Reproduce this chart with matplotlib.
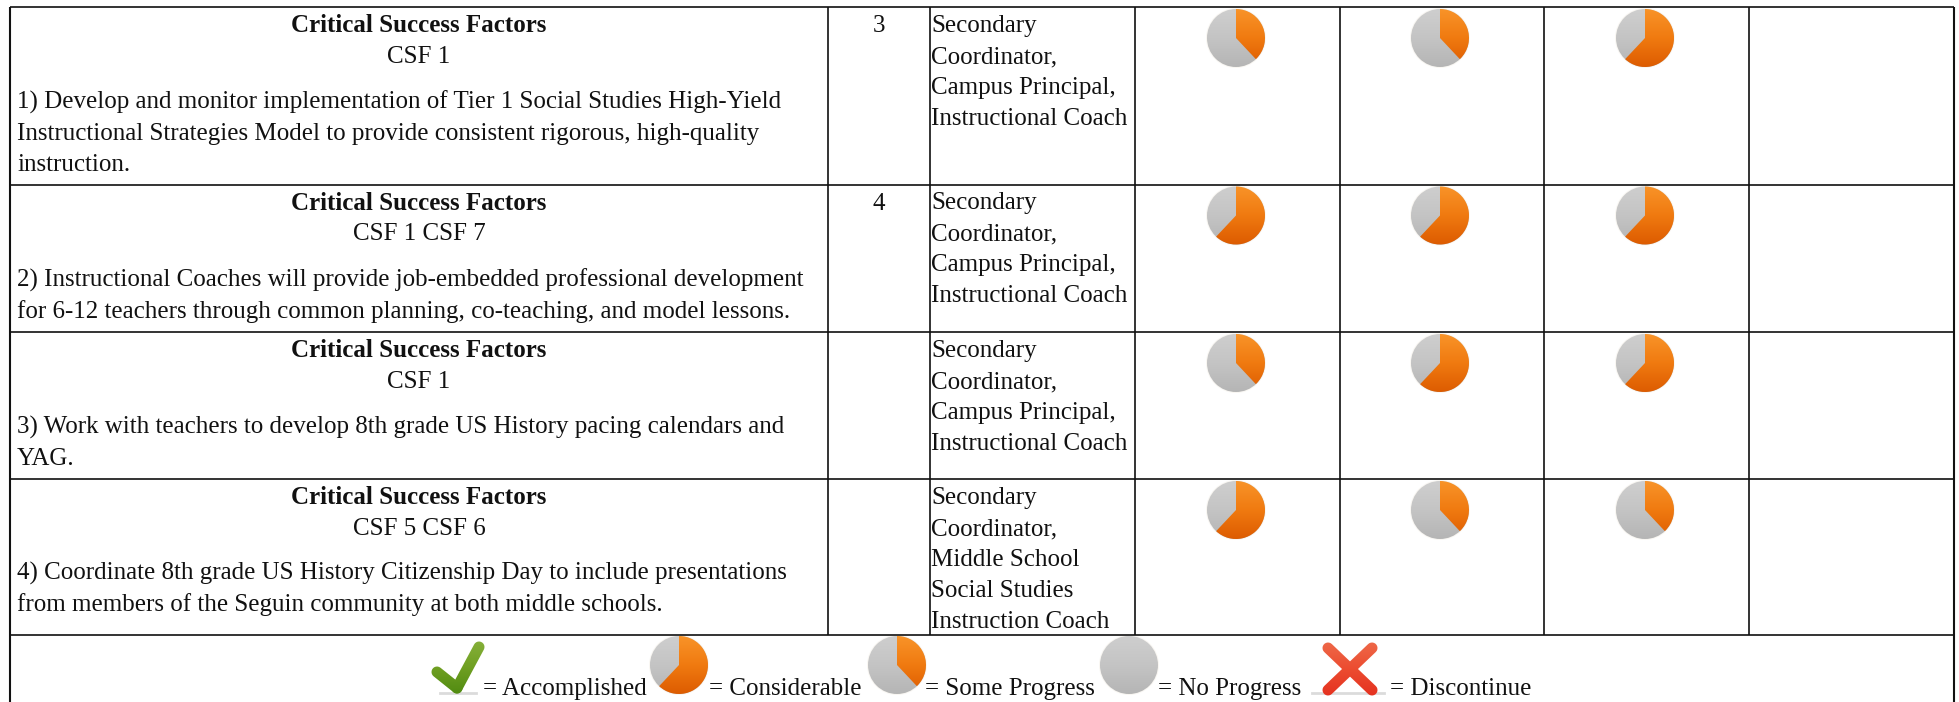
import numpy as np
import matplotlib
matplotlib.use("Agg")
import matplotlib.pyplot as plt
from matplotlib.patches import Wedge, Circle, Polygon
from matplotlib.colors import LinearSegmentedColormap

# ---- content ----
HEADING = "Critical Success Factors"
CSF_LABELS = ["CSF 1", "CSF 1 CSF 7", "CSF 1", "CSF 5 CSF 6"]
STRATEGIES = [
    ["1) Develop and monitor implementation of Tier 1 Social Studies High-Yield",
     "Instructional Strategies Model to provide consistent rigorous, high-quality",
     "instruction."],
    ["2) Instructional Coaches will provide job-embedded professional development",
     "for 6-12 teachers through common planning, co-teaching, and model lessons."],
    ["3) Work with teachers to develop 8th grade US History pacing calendars and",
     "YAG."],
    ["4) Coordinate 8th grade US History Citizenship Day to include presentations",
     "from members of the Seguin community at both middle schools."],
]
PRIORITY = ["3", "4", "", ""]
STAFF = [
    ["Secondary", "Coordinator,", "Campus Principal,", "Instructional Coach"],
    ["Secondary", "Coordinator,", "Campus Principal,", "Instructional Coach"],
    ["Secondary", "Coordinator,", "Campus Principal,", "Instructional Coach"],
    ["Secondary", "Coordinator,", "Middle School", "Social Studies", "Instruction Coach"],
]
SOME = 0.38
CONSIDERABLE = 0.62
NONE = 0.0
REVIEW_1 = [SOME, CONSIDERABLE, SOME, CONSIDERABLE]
REVIEW_2 = [SOME, CONSIDERABLE, CONSIDERABLE, SOME]
REVIEW_3 = [CONSIDERABLE, CONSIDERABLE, CONSIDERABLE, SOME]
LEGEND_LABELS = ["= Accomplished", "= Considerable", "= Some Progress", "= No Progress", "= Discontinue"]
LEGEND_PIES = [CONSIDERABLE, SOME, NONE]

# ---- layout in pixels ----
W, H = 1959, 702
COL_X = [10, 828, 930, 1135, 1340, 1544, 1749, 1954]
ROW_Y = [7, 184.5, 332, 479, 635]
LINE = "#111111"
FS = 18.0
LH = 31

fig = plt.figure(figsize=(W / 100, H / 100), dpi=100, facecolor="white")
ax = fig.add_axes([0, 0, 1, 1])
ax.set_xlim(0, W)
ax.set_ylim(H, 0)
ax.axis("off")

ORANGE = LinearSegmentedColormap.from_list("o", ["#f9952a", "#f07a10", "#dc5a00"])
GRAY = LinearSegmentedColormap.from_list("g", ["#cfcfcf", "#c4c4c4", "#b4b4b4"])
GREEN = LinearSegmentedColormap.from_list("gr", ["#86b03a", "#6f9f22", "#4f8a10"])
RED = LinearSegmentedColormap.from_list("r", ["#ee6a4a", "#ec4c30", "#e4301e"])
GRAD = np.linspace(0, 1, 64).reshape(-1, 1)


def fill(patch, cmap, x0, x1, y0, y1):
    ax.add_patch(patch)
    patch.set_facecolor("none")
    patch.set_edgecolor("none")
    im = ax.imshow(GRAD, cmap=cmap, extent=(x0 - 2, x1 + 2, y1 + 2, y0 - 2), aspect="auto",
                   interpolation="bilinear", vmin=0, vmax=1, zorder=3)
    im.set_clip_path(patch)


def pie(cx, cy, frac, r=29):
    ax.add_patch(Circle((cx, cy), r + 1, fc="#f4f0e8", ec="none", alpha=0.55, zorder=2))
    fill(Circle((cx, cy), r), GRAY, cx - r, cx + r, cy - r, cy + r)
    if frac > 0:
        fill(Wedge((cx, cy), r, -90, -90 + 360 * frac), ORANGE, cx - r, cx + r, cy - r, cy + r)


def capsule(p0, p1, w):
    p0, p1 = np.array(p0, float), np.array(p1, float)
    ang = np.arctan2(*(p1 - p0)[::-1])
    t0 = np.linspace(ang + np.pi / 2, ang + 3 * np.pi / 2, 12)
    t1 = t0 + np.pi
    a = p0 + w / 2 * np.c_[np.cos(t0), np.sin(t0)]
    b = p1 + w / 2 * np.c_[np.cos(t1), np.sin(t1)]
    return np.vstack([a, b])


def txt(x, y, s, **kw):
    ax.text(x, y, s, family="Liberation Serif", fontsize=FS, color="#111111",
            va="baseline", zorder=5, **kw)


# grid
for y in ROW_Y:
    ax.plot([COL_X[0], COL_X[-1]], [y, y], color=LINE, lw=1.2, zorder=4, solid_capstyle="butt")
for x in COL_X[1:-1]:
    ax.plot([x, x], [ROW_Y[0], ROW_Y[-1]], color=LINE, lw=1.2, zorder=4, solid_capstyle="butt")
for x in (COL_X[0], COL_X[-1]):
    ax.plot([x, x], [ROW_Y[0], H], color=LINE, lw=1.5, zorder=4, solid_capstyle="butt")

# rows
BODY_BASE = [109, 287, 434, 580]
PIE_X = [1236, 1440, 1645]
for i in range(4):
    top = ROW_Y[i]
    base = top + 25
    mid = (COL_X[0] + COL_X[1]) / 2
    txt(mid, base, HEADING, ha="center", fontweight="bold")
    txt(mid, base + LH, CSF_LABELS[i], ha="center")
    for j, line in enumerate(STRATEGIES[i]):
        txt(17, BODY_BASE[i] + j * LH, line, ha="left")
    txt((COL_X[1] + COL_X[2]) / 2, base, PRIORITY[i], ha="center")
    for j, line in enumerate(STAFF[i]):
        txt(COL_X[2] + 1, base + j * LH, line, ha="left")
    for cx, vals in zip(PIE_X, (REVIEW_1, REVIEW_2, REVIEW_3)):
        pie(cx, top + 31, vals[i])

# legend
LEG_BASE = 695
txt(483, LEG_BASE, LEGEND_LABELS[0], ha="left")
txt(709, LEG_BASE, LEGEND_LABELS[1], ha="left")
txt(925, LEG_BASE, LEGEND_LABELS[2], ha="left")
txt(1158, LEG_BASE, LEGEND_LABELS[3], ha="left")
txt(1390, LEG_BASE, LEGEND_LABELS[4], ha="left")
for cx, frac in zip((679, 897, 1129), LEGEND_PIES):
    pie(cx, 665, frac)

# check mark icon
ax.plot([440, 476], [693, 693], color="#c4c4c4", lw=2, alpha=0.6, zorder=2)
for a, b in (((437, 672), (457, 688)), ((457, 688), (479, 647))):
    fill(Polygon(capsule(a, b, 11), closed=True), GREEN, 433, 486, 642, 694)
# X icon
ax.plot([1312, 1384], [692.5, 692.5], color="#c4c4c4", lw=2, alpha=0.6, zorder=2)
for a, b in (((1328, 648), (1372, 690)), ((1372, 648), (1328, 690))):
    fill(Polygon(capsule(a, b, 11), closed=True), RED, 1322, 1378, 642, 696)

ax.set_xlim(0, W)
ax.set_ylim(H, 0)
fig.savefig("out.png", dpi=100, facecolor="white")
